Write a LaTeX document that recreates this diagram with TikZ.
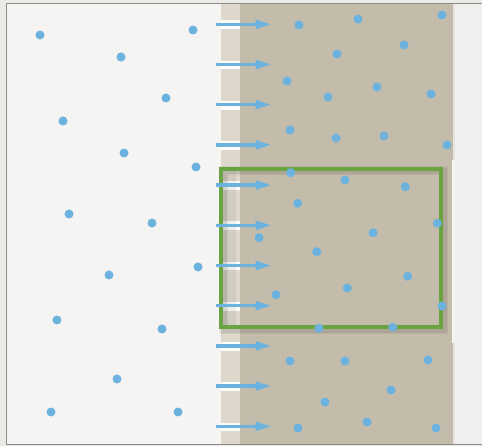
\documentclass[tikz,border=0pt]{standalone}
\usetikzlibrary{arrows.meta}
\definecolor{outside}{HTML}{ECEAE7}
\definecolor{leftbg}{HTML}{F5F4F3}
\definecolor{strip}{HTML}{DDD7CC}
\definecolor{tan}{HTML}{C4BCAB}
\definecolor{rightbg}{HTML}{EFEFEE}
\definecolor{framec}{HTML}{8C8B87}
\definecolor{dotc}{HTML}{6BB3DE}
\definecolor{boxc}{HTML}{6AA442}
\tikzset{
  dot/.style={fill=dotc},
  flowarrow/.style={draw=dotc, line width=3.3pt, -{Triangle[length=16pt,width=8.7pt]}},
  gap/.style={fill=white!70!leftbg},
  greenbox/.style={draw=boxc, line width=4pt},
  boxshadow/.style={draw=black, opacity=0.06, line width=#1},
  boxshadow/.default=6pt
}
\begin{document}
\begin{tikzpicture}[x=1pt,y=-1pt]
\useasboundingbox (0,0) rectangle (482,446);
\fill[outside] (0,0) rectangle (482,446);
% panels
\fill[leftbg] (6,4) rectangle (221,444);
\fill[strip] (221,4) rectangle (240,444);
\fill[tan] (240,4) rectangle (453,444);
\fill[rightbg] (453,4) rectangle (482,444);
\fill[white!60!tan] (453,4) rectangle (454.5,160);
\fill[white!60!tan] (453,343) rectangle (454.5,444);
\fill[white!85!tan] (452,160) rectangle (455,343);
% frame
\draw[framec, line width=1pt] (485,4) -- (6,4) -- (6,444) -- (485,444);
% gaps in strip
\foreach \y in {24.3,64.5,104.7,144.9,185.1,225.3,265.5,305.7,345.9,386.1,426.3}{
  \fill[gap] (221,\y-3.8) rectangle (240,\y+5);
}
% green box with soft shadow
\draw[boxshadow=9pt] (223.5,171) rectangle (443.5,330);
\draw[boxshadow=6pt] (223.5,171) rectangle (443.5,330);
\fill[black, opacity=0.05] (223,170.5) rectangle (236,325);
\draw[greenbox] (221,168.7) rectangle (440.7,327);
% arrows
\foreach \y [count=\i] in {24.3,64.5,104.7,144.9,185.1,225.3,265.5,305.7,345.9,386.1,426.3}{
  \coordinate (s\i) at (216,\y);
  \coordinate (t\i) at (271.5,\y);
  \draw[flowarrow] (s\i) -- (t\i);
}
% dots
\foreach \p in {(40,35),(121,57),(193,30),(166,98),(63,121),(124,153),(196,167),(69,214),(152,223),(109,275),(198,267),(57,320),(162,329),(117,379),(51,412),(178,412),
(299,25),(358,19),(442,15),(337,54),(404,45),(287,81),(328,97),(377,87),(431,94),(290,130),(336,138),(384,136),(447,145),
(290.7,172.7),(345,180),(405.3,186.7),(297.7,203.3),(437.3,223.3),(373,232.7),(259,237.7),(316.7,251.7),(407.7,276.3),(347.3,288),(276,294.7),(442,306),(319,328.3),(392.7,327.3),
(290,361),(345,361),(428,360),(391,390),(325,402),(367,422),(298,428),(436,428)}{
  \fill[dot] \p circle[radius=4.5];
}
\end{tikzpicture}
\end{document}
